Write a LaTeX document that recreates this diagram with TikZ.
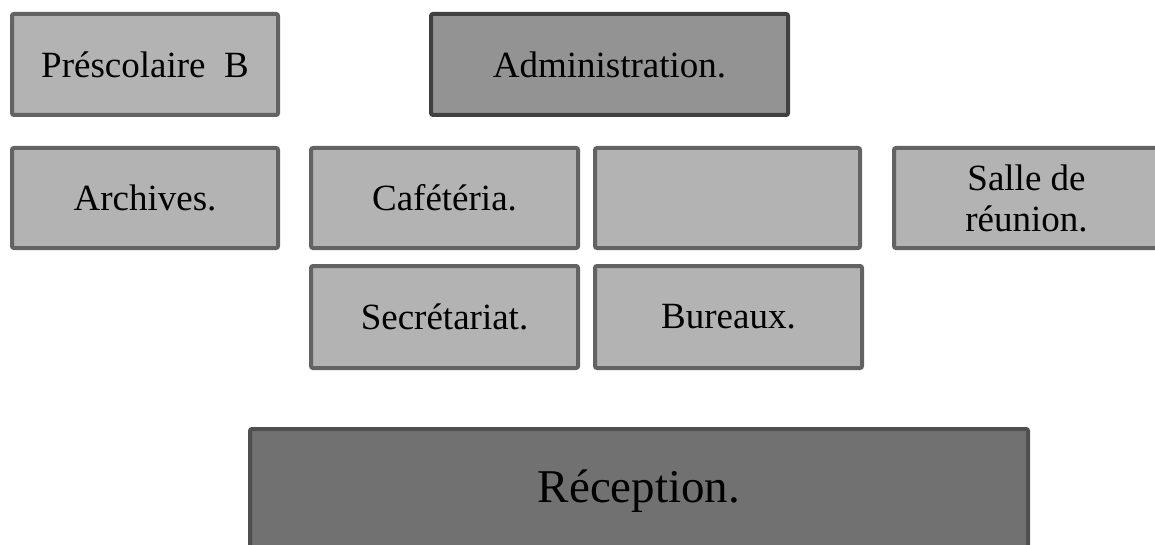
\documentclass[tikz,border=0pt]{standalone}
\usepackage{fontspec}
\setmainfont{Liberation Serif}
\begin{document}
\begin{tikzpicture}[x=1pt,y=-1pt,
  room/.style={draw=boxline, fill=boxfill, line width=4pt, rounded corners=2pt,
    inner sep=0pt, align=center, font=\fontsize{37}{41}\selectfont, text=black},
  light/.style={room},
  mid/.style={room, draw=midline, fill=midfill},
  dark/.style={room, draw=darkline, fill=darkfill, font=\fontsize{47}{52}\selectfont}]
\definecolor{boxline}{HTML}{636363}
\definecolor{boxfill}{HTML}{B3B3B3}
\definecolor{midline}{HTML}{404040}
\definecolor{midfill}{HTML}{939393}
\definecolor{darkline}{HTML}{4F4F4F}
\definecolor{darkfill}{HTML}{717171}
\useasboundingbox (0,0) rectangle (1155,545);
\clip (0,0) rectangle (1155,545);
\node[light, minimum width=266pt, minimum height=101pt] (pre) at (145,64.5) {Préscolaire~~B};
\node[mid, minimum width=357pt, minimum height=101pt] (admin) at (609.5,64.5) {Administration.};
\node[light, minimum width=266pt, minimum height=100pt] (arch) at (145,198) {Archives.};
\node[light, minimum width=267pt, minimum height=100pt] (caf) at (444.5,198) {Cafétéria.};
\node[light, minimum width=265pt, minimum height=100pt] (blank) at (727.5,198) {};
\node[light, minimum width=269pt, minimum height=100pt] (salle) at (1028.5,198) {\hspace*{-4pt}Salle de\\\hspace*{-4pt}réunion.};
\node[light, minimum width=267pt, minimum height=102pt] (sec) at (444.5,317) {Secrétariat.};
\node[light, minimum width=267pt, minimum height=102pt] (bur) at (728.5,317) {Bureaux.};
\node[dark, minimum width=778pt, minimum height=125pt] (rec) at (639,491.5) {Réception.};
\end{tikzpicture}
\end{document}
